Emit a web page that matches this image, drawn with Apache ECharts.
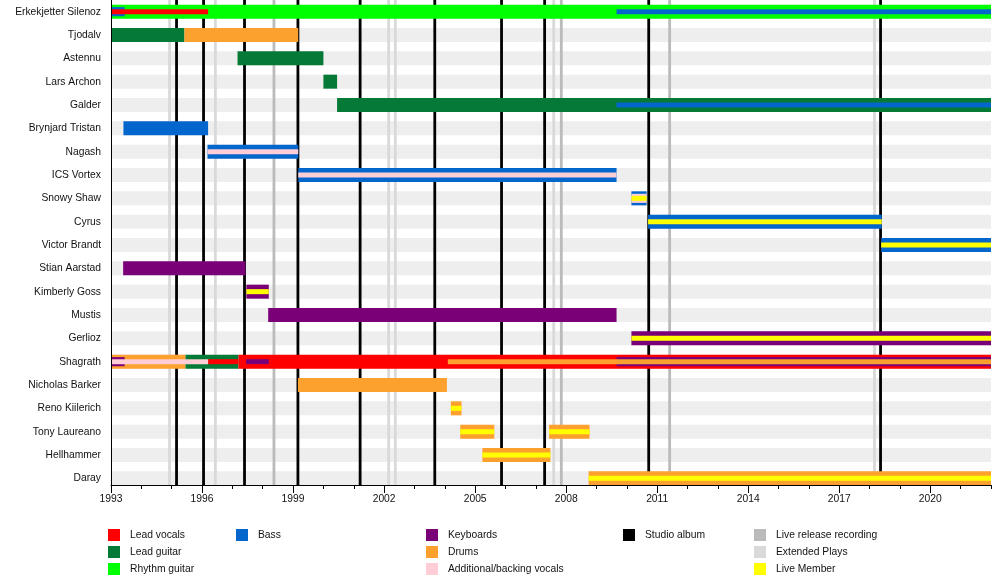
<!DOCTYPE html>
<html>
<head>
<meta charset="utf-8">
<script src="https://cdn.jsdelivr.net/npm/echarts@6/dist/echarts.min.js"></script>
<style>
  html, body { margin: 0; padding: 0; background: #fff; }
  #chart { width: 1000px; height: 585px; }
</style>
</head>
<body>
<div id="chart"></div>
<script>
const members = [
  'Erkekjetter Silenoz', 'Tjodalv', 'Astennu', 'Lars Archon', 'Galder', 'Brynjard Tristan',
  'Nagash', 'ICS Vortex', 'Snowy Shaw', 'Cyrus', 'Victor Brandt', 'Stian Aarstad',
  'Kimberly Goss', 'Mustis', 'Gerlioz', 'Shagrath', 'Nicholas Barker', 'Reno Kiilerich',
  'Tony Laureano', 'Hellhammer', 'Daray'
]

const tickYears = [1993, 1996, 1999, 2002, 2005, 2008, 2011, 2014, 2017, 2020]

// [member row, from, to, layer]  layer 0 = main bar, 1 = middle stripe, 2 = inner stripe
const leadVocals = [
  [0, 1993, 1996.2, 2], [15, 1996.2, 1997.2, 2], [15, 1997.2, 2022, 0]
]
const leadGuitar = [
  [1, 1993, 1995.42, 0], [2, 1997.17, 2000.0, 0], [3, 2000.0, 2000.45, 0],
  [4, 2000.45, 2022, 0], [15, 1995.45, 1997.2, 0]
]
const rhythmGuitar = [
  [0, 1993, 2022, 0]
]
const bass = [
  [0, 1993, 1993.45, 1], [0, 2009.66, 2022, 2], [4, 2009.66, 2022, 2],
  [5, 1993.41, 1996.2, 0], [6, 1996.18, 1999.17, 0], [7, 1999.17, 2009.66, 0],
  [8, 2010.15, 2010.65, 0], [9, 2010.7, 2018.4, 0], [10, 2018.38, 2022, 0]
]
const keyboards = [
  [11, 1993.4, 1997.43, 0], [12, 1997.46, 1998.2, 0], [13, 1998.18, 2009.66, 0],
  [14, 2010.15, 2022, 0], [15, 1993, 1993.45, 1], [15, 1997.45, 1998.2, 2],
  [15, 2009.66, 2022, 1]
]
const drums = [
  [1, 1995.42, 1999.17, 0], [15, 1993, 1995.45, 0], [15, 2004.1, 2022, 2],
  [16, 1999.16, 2004.07, 0], [17, 2004.2, 2004.55, 0], [18, 2004.51, 2005.63, 0],
  [18, 2007.44, 2008.77, 0], [19, 2005.24, 2007.48, 0], [20, 2008.74, 2022, 0]
]
const backingVocals = [
  [6, 1996.18, 1999.17, 2], [7, 1999.17, 2009.66, 2], [8, 2010.15, 2010.65, 1],
  [15, 1993, 1996.2, 2]
]
const liveMember = [
  [8, 2010.15, 2010.65, 2], [9, 2010.7, 2018.4, 2], [10, 2018.38, 2022, 2],
  [12, 1997.46, 1998.2, 2], [14, 2010.15, 2022, 2], [17, 2004.2, 2004.55, 2],
  [18, 2004.51, 2005.63, 2], [18, 2007.44, 2008.77, 2], [19, 2005.24, 2007.48, 2],
  [20, 2008.74, 2022, 2]
]

const studioAlbums = [1995.16, 1996.05, 1997.4, 1999.16, 2001.21, 2003.67, 2005.87, 2007.29, 2010.72, 2018.36]
const liveReleases = [1998.37, 2007.84, 2011.41]
const extendedPlays = [1994.93, 1996.44, 2002.15, 2002.37, 2007.59, 2018.16]

const FONT = 'Liberation Sans'
const TEXT = '#111'
const layerSize = [0.6, 0.39, 0.215]

function renderSpan(params, api) {
  const row = api.value(0)
  const layer = api.value(3)
  const a = api.coord([api.value(1), row])
  const b = api.coord([api.value(2), row])
  const h = api.size([0, 1])[1] * layerSize[layer]
  return {
    type: 'rect',
    z2: 10 + layer,
    shape: { x: a[0], y: a[1] - h / 2, width: b[0] - a[0], height: h },
    style: { fill: api.visual('color') }
  }
}

function renderLine(params, api) {
  const x = api.coord([api.value(0), 0])[0]
  const cs = params.coordSys
  return {
    type: 'line',
    z2: 5,
    shape: { x1: x, y1: cs.y, x2: x, y2: cs.y + cs.height },
    style: { stroke: api.visual('color'), lineWidth: 2.8 }
  }
}

function spanSeries(name, color, data) {
  return {
    name,
    type: 'custom',
    renderItem: renderSpan,
    itemStyle: { color },
    encode: { x: [1, 2], y: 0 },
    data,
    silent: true
  }
}

function lineSeries(name, color, years) {
  return {
    name,
    type: 'custom',
    xAxisIndex: 1,
    yAxisIndex: 1,
    renderItem: renderLine,
    itemStyle: { color },
    encode: { x: 0 },
    data: years.map((y) => [y]),
    silent: true
  }
}

function legendBlock(left, names) {
  return {
    data: names,
    orient: 'vertical',
    left,
    top: 529,
    padding: 0,
    icon: 'rect',
    itemWidth: 12,
    itemHeight: 12,
    itemGap: 5,
    selectedMode: false,
    textStyle: { fontFamily: FONT, fontSize: 10.3, color: TEXT, padding: [0, 0, 0, 5] }
  }
}

const chart = echarts.init(document.getElementById('chart'), null, { renderer: 'canvas' })

chart.setOption({
  animation: false,
  backgroundColor: '#fff',
  grid: [
    { left: 111, right: 9, top: 0, bottom: 95, outerBoundsMode: 'none' },
    { left: 111, right: 9, top: 0, bottom: 100, outerBoundsMode: 'none' }
  ],
  xAxis: [
    { type: 'value', gridIndex: 0, min: 1993, max: 2022, show: false },
    {
      type: 'value',
      gridIndex: 1,
      min: 1993,
      max: 2022,
      interval: 3,
      position: 'bottom',
      z: 20,
      splitLine: { show: false },
      axisLine: { lineStyle: { color: '#000', width: 1 } },
      axisTick: { length: 8, lineStyle: { color: '#000' }, customValues: tickYears },
      axisLabel: {
        customValues: tickYears,
        margin: 9,
        color: TEXT,
        fontFamily: FONT,
        fontSize: 10.3,
        formatter: (v) => (v === 2022 ? '' : String(v))
      }
    },
    {
      type: 'value',
      gridIndex: 1,
      min: 1993,
      max: 2022,
      interval: 1,
      position: 'bottom',
      splitLine: { show: false },
      axisLine: { show: false },
      axisTick: { length: 4, lineStyle: { color: '#000' } },
      axisLabel: { show: false }
    }
  ],
  yAxis: [
    {
      type: 'category',
      gridIndex: 0,
      data: members,
      inverse: true,
      z: 20,
      axisLine: { show: true, lineStyle: { color: '#000', width: 1 } },
      axisTick: { show: false },
      splitLine: { show: false },
      axisLabel: { margin: 10, color: TEXT, fontFamily: FONT, fontSize: 10.3 }
    },
    { type: 'value', gridIndex: 1, min: 0, max: 1, show: false }
  ],
  legend: [
    legendBlock(108, ['Lead vocals', 'Lead guitar', 'Rhythm guitar']),
    legendBlock(236, ['Bass']),
    legendBlock(426, ['Keyboards', 'Drums', 'Additional/backing vocals']),
    legendBlock(623, ['Studio album']),
    legendBlock(754, ['Live release recording', 'Extended Plays', 'Live Member'])
  ],
  series: [
    {
      name: 'rows',
      type: 'custom',
      renderItem: (params, api) => {
        const a = api.coord([api.value(1), api.value(0)])
        const b = api.coord([api.value(2), api.value(0)])
        const h = api.size([0, 1])[1] * layerSize[0]
        return {
          type: 'rect',
          z2: 0,
          shape: { x: a[0], y: a[1] - h / 2, width: b[0] - a[0], height: h },
          style: { fill: '#eeeeee' }
        }
      },
      encode: { x: [1, 2], y: 0 },
      data: members.map((m, i) => [i, 1993, 2022]),
      silent: true
    },
    lineSeries('Studio album', '#000000', studioAlbums),
    lineSeries('Live release recording', '#bbbbbb', liveReleases),
    lineSeries('Extended Plays', '#d9d9d9', extendedPlays),
    spanSeries('Rhythm guitar', '#00ff00', rhythmGuitar),
    spanSeries('Lead guitar', '#057a37', leadGuitar),
    spanSeries('Lead vocals', '#ff0000', leadVocals),
    spanSeries('Bass', '#0366cc', bass),
    spanSeries('Keyboards', '#7a0078', keyboards),
    spanSeries('Drums', '#fca12d', drums),
    spanSeries('Additional/backing vocals', '#ffcdd5', backingVocals),
    spanSeries('Live Member', '#ffff00', liveMember)
  ]
})
</script>
</body>
</html>
